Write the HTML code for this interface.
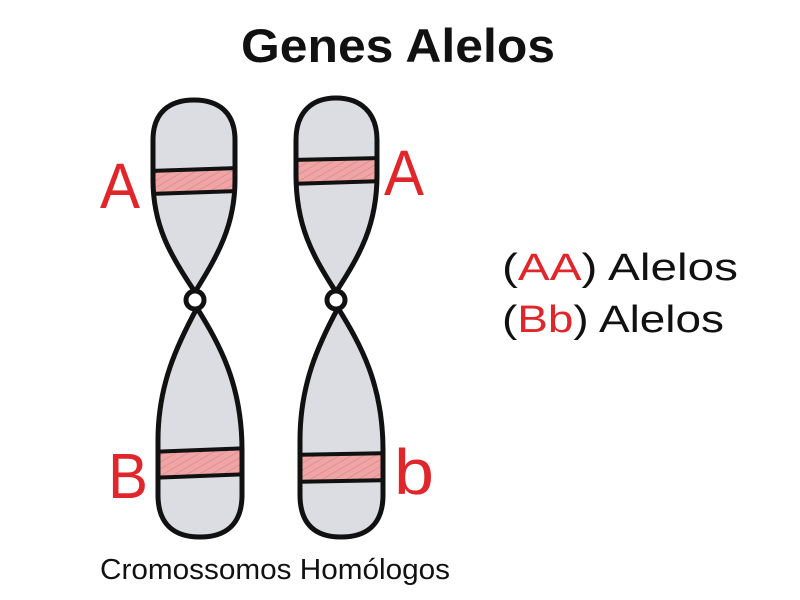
<!DOCTYPE html>
<html><head><meta charset="utf-8"><style>html,body{margin:0;padding:0;background:#fff;width:800px;height:600px;overflow:hidden}</style></head>
<body>
<svg width="800" height="600" viewBox="0 0 800 600" xmlns="http://www.w3.org/2000/svg">
<defs>
<pattern id="h" width="6" height="6" patternUnits="userSpaceOnUse" patternTransform="rotate(60)">
<rect width="6" height="6" fill="#eea5a5"/><line x1="0" y1="0" x2="0" y2="6" stroke="#d77" stroke-width="1"/>
</pattern>
<clipPath id="c1"><path d="M195,292 C170,255 153,225 153,180 L153,140 C153,112 170,100 194,100 C218,100 235,112 235,140 L235,180 C235,225 218,255 195,292 Z"/></clipPath>
<clipPath id="c2"><path d="M197,308 C220,345 242,385 242,450 L242,495 C242,525 225,537 200,537 C175,537 158,525 158,495 L158,440 C158,385 177,345 197,308 Z"/></clipPath>
<clipPath id="c3"><path d="M336,292 C312,255 296,225 296,175 L296,140 C296,112 312,98 336,98 C360,98 377,112 377,140 L377,175 C377,225 360,255 336,292 Z"/></clipPath>
<clipPath id="c4"><path d="M338,308 C361,345 383,385 383,450 L383,495 C383,525 366,537 341,537 C316,537 300,525 300,495 L300,440 C300,385 318,345 338,308 Z"/></clipPath>
</defs>
<text x="398" y="62" text-anchor="middle" font-family="Liberation Sans, sans-serif" font-weight="bold" font-size="47" fill="#111" textLength="314" lengthAdjust="spacingAndGlyphs">Genes Alelos</text>
<g stroke="#111" stroke-width="5" fill="#dcdde2">
<g clip-path="url(#c1)"><rect x="140" y="90" width="110" height="210" fill="#dcdde2" stroke="none"/><path d="M150,171 L240,168 L240,191 L150,194 Z" fill="url(#h)" stroke="#111" stroke-width="4"/></g>
<path d="M195,292 C170,255 153,225 153,180 L153,140 C153,112 170,100 194,100 C218,100 235,112 235,140 L235,180 C235,225 218,255 195,292 Z" fill="none"/>
<g clip-path="url(#c2)"><rect x="140" y="300" width="110" height="240" fill="#dcdde2" stroke="none"/><path d="M150,452 L250,448 L250,474 L150,478 Z" fill="url(#h)" stroke="#111" stroke-width="4"/></g>
<path d="M197,308 C220,345 242,385 242,450 L242,495 C242,525 225,537 200,537 C175,537 158,525 158,495 L158,440 C158,385 177,345 197,308 Z" fill="none"/>
<circle cx="195" cy="300" r="9" fill="#fff"/>
<g clip-path="url(#c3)"><rect x="285" y="90" width="110" height="210" fill="#dcdde2" stroke="none"/><path d="M290,160 L385,158 L385,181 L290,184 Z" fill="url(#h)" stroke="#111" stroke-width="4"/></g>
<path d="M336,292 C312,255 296,225 296,175 L296,140 C296,112 312,98 336,98 C360,98 377,112 377,140 L377,175 C377,225 360,255 336,292 Z" fill="none"/>
<g clip-path="url(#c4)"><rect x="290" y="300" width="110" height="240" fill="#dcdde2" stroke="none"/><path d="M290,455 L395,453 L395,480 L290,482 Z" fill="url(#h)" stroke="#111" stroke-width="4"/></g>
<path d="M338,308 C361,345 383,385 383,450 L383,495 C383,525 366,537 341,537 C316,537 300,525 300,495 L300,440 C300,385 318,345 338,308 Z" fill="none"/>
<circle cx="336" cy="300" r="9" fill="#fff"/>
</g>
<g font-family="Liberation Sans, sans-serif" fill="#e0262b" font-size="64">
<text x="100" y="208" textLength="40" lengthAdjust="spacingAndGlyphs">A</text>
<text x="384" y="195" textLength="40" lengthAdjust="spacingAndGlyphs">A</text>
<text x="108" y="498" textLength="40" lengthAdjust="spacingAndGlyphs">B</text>
<text x="394" y="494" textLength="40" lengthAdjust="spacingAndGlyphs">b</text>
</g>
<g font-family="Liberation Sans, sans-serif" font-size="38" fill="#111">
<text x="502" y="280" textLength="236" lengthAdjust="spacingAndGlyphs">(<tspan fill="#e0262b">AA</tspan>) Alelos</text>
<text x="502" y="332" textLength="222" lengthAdjust="spacingAndGlyphs">(<tspan fill="#e0262b">Bb</tspan>) Alelos</text>
</g>
<text x="100" y="579" font-family="Liberation Sans, sans-serif" font-size="29" fill="#111" textLength="350" lengthAdjust="spacingAndGlyphs">Cromossomos Homólogos</text>
</svg>
</body></html>
